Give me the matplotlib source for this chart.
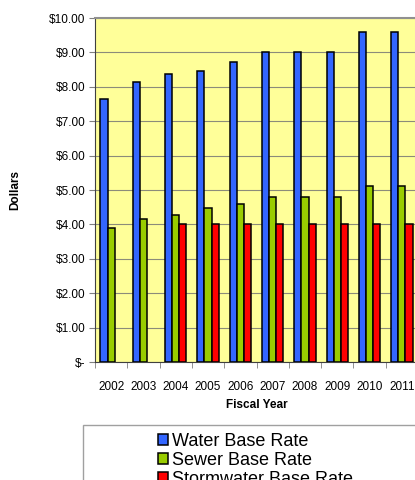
import numpy as np
import matplotlib
matplotlib.use("Agg")
import matplotlib.pyplot as plt
from matplotlib.patches import Rectangle

plt.rcParams["font.family"] = ["Liberation Sans", "DejaVu Sans"]

years = ["2002", "2003", "2004", "2005", "2006", "2007", "2008", "2009", "2010", "2011"]
water = [7.65, 8.15, 8.37, 8.47, 8.72, 9.00, 9.00, 9.00, 9.60, 9.60]
sewer = [3.89, 4.15, 4.28, 4.48, 4.58, 4.81, 4.81, 4.81, 5.13, 5.13]
storm = [np.nan, np.nan, 4.00, 4.00, 4.00, 4.00, 4.00, 4.00, 4.00, 4.00]
series_names = ["Water Base Rate", "Sewer Base Rate", "Stormwater Base Rate"]
y_labels = ["$-", "$1.00", "$2.00", "$3.00", "$4.00", "$5.00",
            "$6.00", "$7.00", "$8.00", "$9.00", "$10.00"]

colors = ["#3366FF", "#99CC00", "#FF0000"]

fig = plt.figure(figsize=(4.15, 4.8), dpi=100)
ax = fig.add_axes([95 / 415, 1 - 362 / 480, 323 / 415, 344 / 480])
ax.set_facecolor("#FFFF99")

x = np.arange(len(years))
w = 0.22
for i, (vals, name) in enumerate(zip([water, sewer, storm], series_names)):
    ax.bar(x + (i - 1) * w, vals, width=w, color=colors[i], edgecolor="black",
           linewidth=1.1, label=name, zorder=3)

ax.set_xlim(-0.5, len(years) - 0.5)
ax.set_ylim(0, 10)
ax.set_yticks(range(11))
ax.set_yticklabels(y_labels, fontsize=8.5)
ax.grid(axis="y", color="#8c8c7a", linewidth=0.8, zorder=0)
ax.set_xticks(x)
ax.set_xticklabels(years, fontsize=8.5)
ax.tick_params(axis="x", which="major", length=0, pad=14)
ax.set_xticks(np.arange(-0.5, len(years)), minor=True)
ax.tick_params(axis="x", which="minor", length=4, color="#808080")
ax.tick_params(axis="y", length=4, color="#808080", pad=3)

ax.spines["left"].set_color("#404040")
ax.spines["bottom"].set_color("#404040")
ax.spines["top"].set_color("#909090")
ax.spines["top"].set_linewidth(1.5)
ax.spines["right"].set_visible(False)

ax.set_xlabel("Fiscal Year", fontsize=8.5, fontweight="bold", labelpad=4)
ax.set_ylabel("Dollars", fontsize=8.5, fontweight="bold", labelpad=20)

# legend box runs off the bottom/right of the figure
fig.patches.append(Rectangle((83 / 415, -0.05), 1.0, 0.05 + 1 - 425 / 480,
                             transform=fig.transFigure, facecolor="white",
                             edgecolor="#a0a0a0", linewidth=1.0))
handles, labels = ax.get_legend_handles_labels()
fig.legend(handles, labels, loc="upper left", bbox_to_anchor=(149 / 415, 1 - 424 / 480),
           frameon=False, fontsize=13, borderpad=0, handlelength=0.55,
           handleheight=0.55, handletextpad=0.2, labelspacing=0.1)

fig.savefig("out.png", dpi=100)
